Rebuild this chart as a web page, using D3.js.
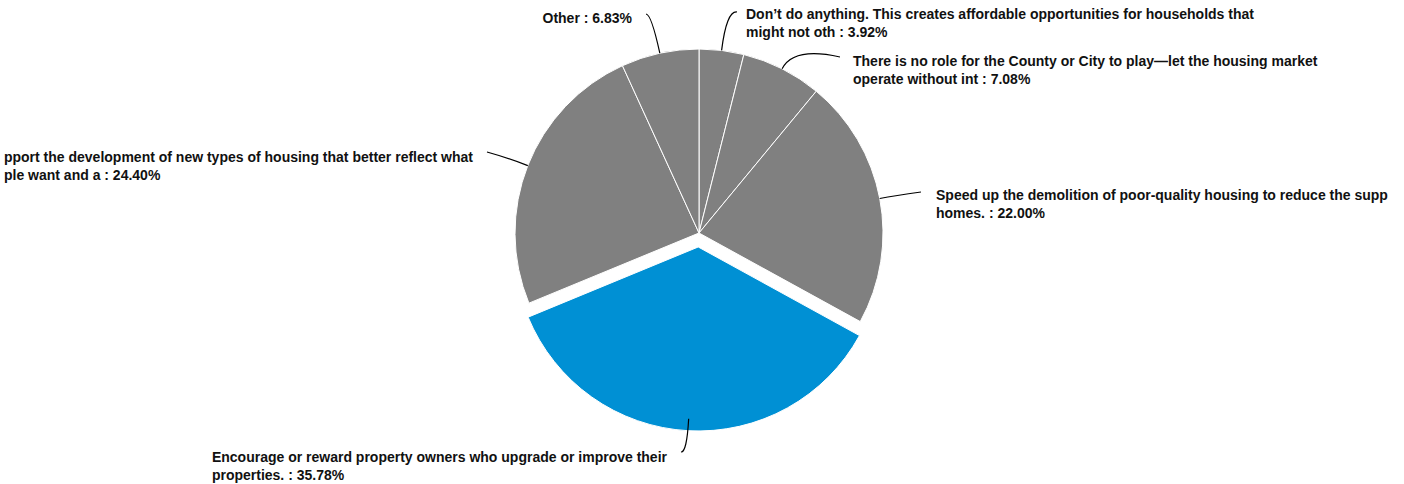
<!DOCTYPE html>
<html>
<head>
<meta charset="utf-8">
<script src="https://cdn.jsdelivr.net/npm/d3@7"></script>
<style>
  html, body { margin: 0; padding: 0; background: #fff; }
  svg { display: block; }
</style>
</head>
<body>
<div id="chart"></div>
<script>
// ---- Data ----
const categories = [
  "Don\u2019t do anything. This creates affordable opportunities for households that might not oth",
  "There is no role for the County or City to play\u2014let the housing market operate without int",
  "Speed up the demolition of poor-quality housing to reduce the supp homes.",
  "Encourage or reward property owners who upgrade or improve their properties.",
  "Support the development of new types of housing that better reflect what people want and a",
  "Other"
];
const values = [3.92, 7.08, 22.00, 35.78, 24.40, 6.83];
// label lines as visible in the chart (the outer edges of the canvas cut two labels)
const labelLines = [
  ["Don\u2019t do anything. This creates affordable opportunities for households that", "might not oth : 3.92%"],
  ["There is no role for the County or City to play\u2014let the housing market", "operate without int : 7.08%"],
  ["Speed up the demolition of poor-quality housing to reduce the supp", "homes. : 22.00%"],
  ["Encourage or reward property owners who upgrade or improve their", "properties. : 35.78%"],
  ["pport the development of new types of housing that better reflect what", "ple want and a : 24.40%"],
  ["Other : 6.83%"]
];
const highlighted = [false, false, false, true, false, false];

// ---- Layout (not data) ----
const W = 1404, H = 484;
const cx = 699, cy = 233, R = 184, explode = 14;
const labelLayout = [
  { side: "right", x: 746, y: 19,  ex: 737, ey: 12,  k: 40 },
  { side: "right", x: 853, y: 66,  ex: 840, ey: 57,  k: 25 },
  { side: "right", x: 936, y: 200, ex: 921, ey: 192, k: 15 },
  { side: "left",  x: 667, y: 462, ex: 681, ey: 452, k: 22, inset: 12 },
  { side: "left",  x: 473, y: 162, ex: 487, ey: 152, k: 20 },
  { side: "left",  x: 632, y: 23,  ex: 646, ey: 14,  k: 40 }
];

const svg = d3.select("#chart").append("svg")
  .attr("width", W).attr("height", H);

const root = svg.append("g");

const pie = d3.pie().sort(null).value(d => d)(values);
const arc = d3.arc().innerRadius(0).outerRadius(R);

const gPie = root.append("g").attr("transform", `translate(${cx},${cy})`);

gPie.selectAll("path.slice").data(pie).join("path")
  .attr("class", "slice")
  .attr("d", arc)
  .attr("transform", (d, i) => {
    if (!highlighted[i]) return null;
    const a = (d.startAngle + d.endAngle) / 2;
    return `translate(${explode * Math.sin(a)},${-explode * Math.cos(a)})`;
  })
  .attr("fill", (d, i) => highlighted[i] ? "#0090d4" : "#808080")
  .attr("stroke", "#ffffff")
  .attr("stroke-width", 1)
  .attr("stroke-linejoin", "round");

// leaders
const gLead = root.append("g");
pie.forEach((d, i) => {
  const L = labelLayout[i];
  const a = (d.startAngle + d.endAngle) / 2;
  const off = highlighted[i] ? explode : 0;
  const sx = Math.sin(a), sy = -Math.cos(a);
  const r0 = R - (L.inset || 0);
  const p0 = [cx + (r0 + off) * sx, cy + (r0 + off) * sy];
  const c = [cx + (R + off + L.k) * sx, cy + (R + off + L.k) * sy];
  const path = d3.path();
  path.moveTo(p0[0], p0[1]);
  path.quadraticCurveTo(c[0], c[1], L.ex, L.ey);
  gLead.append("path")
    .attr("d", path.toString())
    .attr("fill", "none")
    .attr("stroke", "#000")
    .attr("stroke-width", 1.2);
});

// labels
const gLab = root.append("g")
  .attr("font-family", "'Liberation Sans', Arial, Helvetica, sans-serif")
  .attr("font-size", 14)
  .attr("font-weight", "bold")
  .attr("fill", "#111");

labelLines.forEach((lines, i) => {
  const L = labelLayout[i];
  const t = gLab.append("text").attr("y", L.y);
  lines.forEach((ln, j) => {
    t.append("tspan").attr("x", 0).attr("dy", j === 0 ? 0 : 17.5).text(ln);
  });
  let x = L.x;
  if (L.side === "left") {
    let maxW = 0;
    t.selectAll("tspan").each(function() { maxW = Math.max(maxW, this.getComputedTextLength()); });
    x = L.x - maxW;
  }
  t.selectAll("tspan").attr("x", x);
});
</script>
</body>
</html>
